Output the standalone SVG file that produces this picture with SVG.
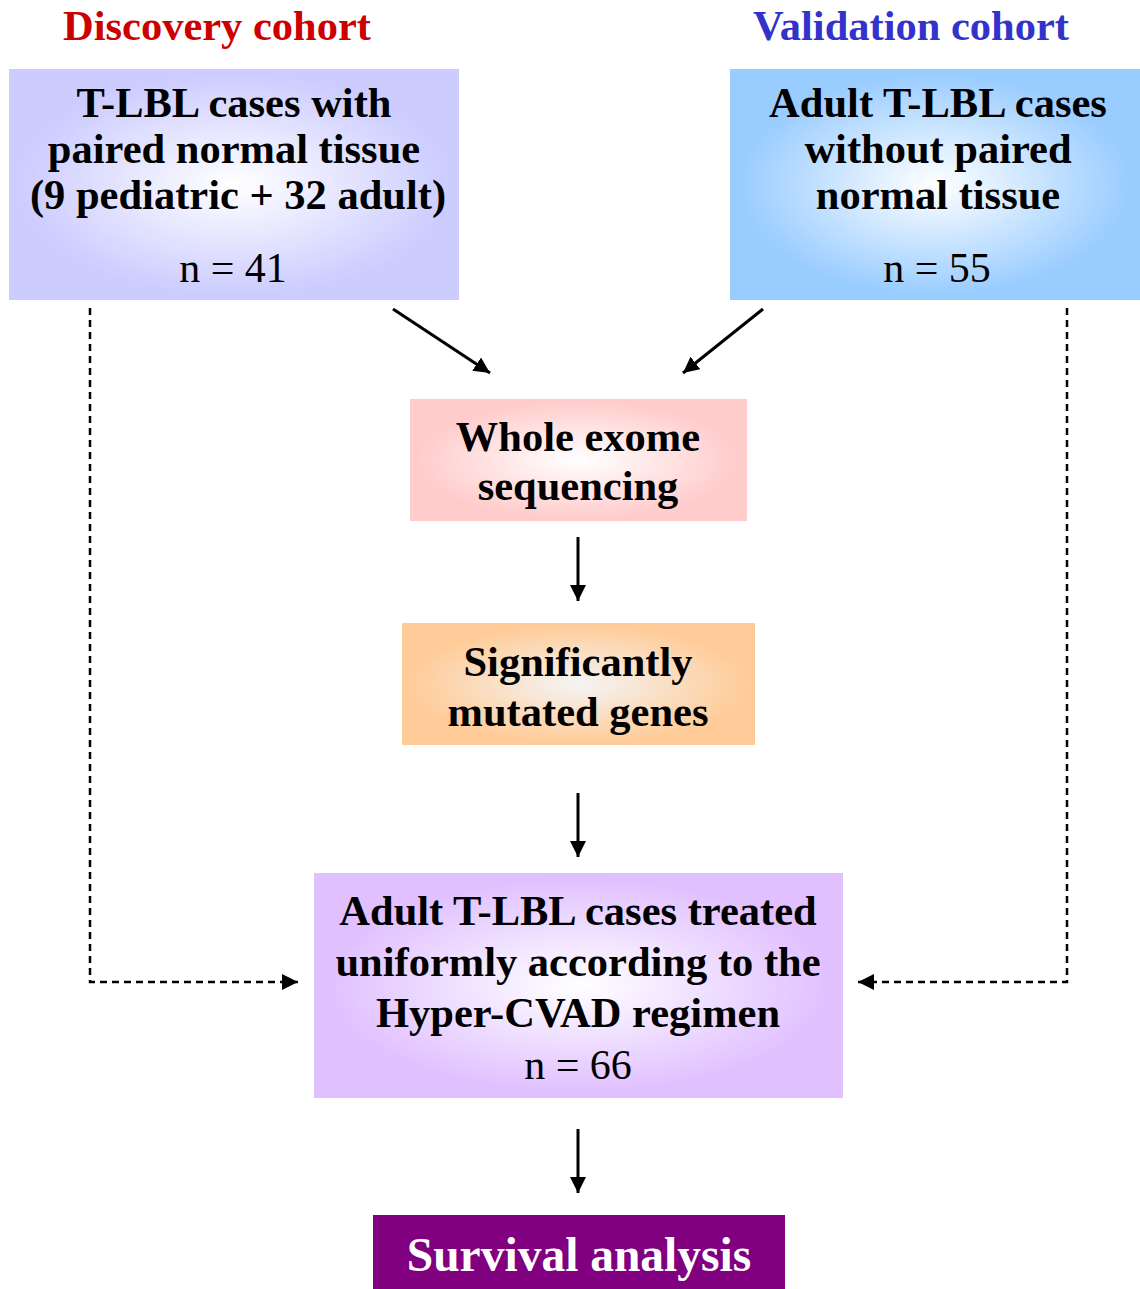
<svg xmlns="http://www.w3.org/2000/svg" width="1140" height="1289" viewBox="0 0 1140 1289">
<defs>
<style>
text{font-family:"Liberation Serif","Times New Roman",serif;text-anchor:middle;fill:#000}
.b{font-weight:bold;font-size:42.5px}
.r{font-size:42px}
.t{font-weight:bold;font-size:42.5px}
.c{stroke:#000;stroke-width:3;fill:none}
.d{stroke:#000;stroke-width:2.5;fill:none;stroke-dasharray:7 5}
</style>
<radialGradient id="g1" cx="0.5" cy="0.5" r="0.6"><stop offset="0" stop-color="#fff"/><stop offset="0.8" stop-color="#ccccff"/></radialGradient>
<radialGradient id="g2" cx="0.5" cy="0.5" r="0.6"><stop offset="0" stop-color="#fff"/><stop offset="0.8" stop-color="#99ccff"/></radialGradient>
<radialGradient id="g3" cx="0.5" cy="0.5" r="0.6"><stop offset="0" stop-color="#fff"/><stop offset="0.8" stop-color="#ffcccc"/></radialGradient>
<radialGradient id="g4" cx="0.5" cy="0.5" r="0.6"><stop offset="0" stop-color="#f4f4f4"/><stop offset="0.8" stop-color="#ffcc99"/></radialGradient>
<radialGradient id="g5" cx="0.5" cy="0.5" r="0.6"><stop offset="0" stop-color="#fff"/><stop offset="0.8" stop-color="#e0c0ff"/></radialGradient>
<marker id="ah" markerUnits="userSpaceOnUse" markerWidth="18" markerHeight="16" refX="16" refY="8" orient="auto"><path d="M0,0 L16,8 L0,16 Z" fill="#000"/></marker>
</defs>
<text x="217" y="40" class="t" style="fill:#cc0000">Discovery cohort</text>
<text x="911" y="40" class="t" style="fill:#3333cc">Validation cohort</text>
<g id="n1">
<rect x="9" y="69" width="450" height="231" fill="url(#g1)"/>
<text x="234" y="117" class="b">T-LBL cases with</text>
<text x="234" y="163" class="b">paired normal tissue</text>
<text x="238" y="209" class="b">(9 pediatric + 32 adult)</text>
<text x="233" y="282" class="r">n = 41</text>
</g>
<g id="n2">
<rect x="730" y="69" width="410" height="231" fill="url(#g2)"/>
<text x="938" y="117" class="b">Adult T-LBL cases</text>
<text x="938" y="163" class="b">without paired</text>
<text x="938" y="209" class="b">normal tissue</text>
<text x="937" y="282" class="r">n = 55</text>
</g>
<g id="n3">
<rect x="410" y="399" width="337" height="122" fill="url(#g3)"/>
<text x="578" y="451" class="b">Whole exome</text>
<text x="578" y="500" class="b">sequencing</text>
</g>
<g id="n4">
<rect x="402" y="623" width="353" height="122" fill="url(#g4)"/>
<text x="578" y="676" class="b">Significantly</text>
<text x="578" y="726" class="b">mutated genes</text>
</g>
<g id="n5">
<rect x="314" y="873" width="529" height="225" fill="url(#g5)"/>
<text x="578" y="925" class="b">Adult T-LBL cases treated</text>
<text x="578" y="976" class="b">uniformly according to the</text>
<text x="578" y="1027" class="b">Hyper-CVAD regimen</text>
<text x="578" y="1079" class="r">n = 66</text>
</g>
<g id="n6">
<rect x="373" y="1215" width="412" height="74" fill="#800080"/>
<text x="579" y="1271" class="b" style="fill:#fff;font-size:47.5px">Survival analysis</text>
</g>
<g id="connectors">
<line x1="393" y1="309" x2="490" y2="373" class="c" marker-end="url(#ah)"/>
<line x1="763" y1="309" x2="683" y2="373" class="c" marker-end="url(#ah)"/>
<line x1="578" y1="537" x2="578" y2="601" class="c" marker-end="url(#ah)"/>
<line x1="578" y1="793" x2="578" y2="857" class="c" marker-end="url(#ah)"/>
<line x1="578" y1="1129" x2="578" y2="1193" class="c" marker-end="url(#ah)"/>
<polyline points="90,308 90,982 298,982" class="d" marker-end="url(#ah)"/>
<polyline points="1067,308 1067,982 858,982" class="d" marker-end="url(#ah)"/>
</g>
</svg>
